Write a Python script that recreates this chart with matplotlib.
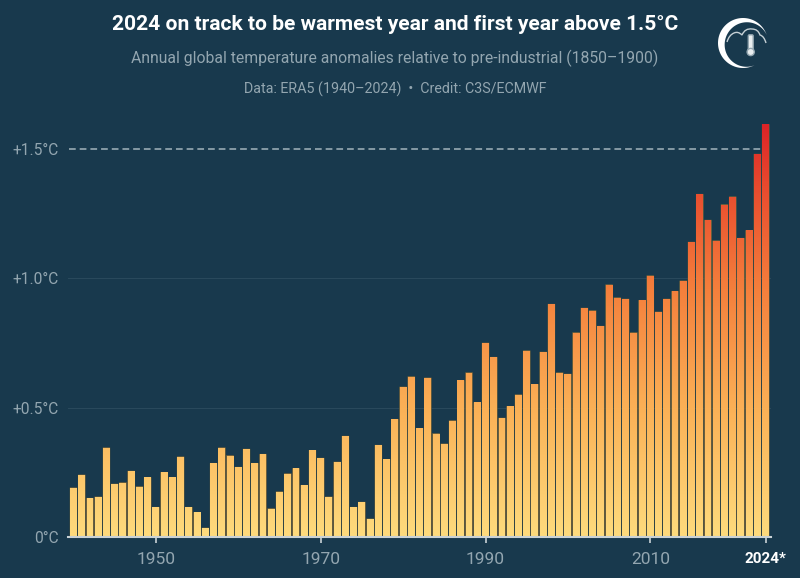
import numpy as np
import matplotlib
matplotlib.use("Agg")
import matplotlib.pyplot as plt
from matplotlib.colors import LinearSegmentedColormap
from matplotlib.patches import PathPatch, Circle, FancyBboxPatch, Polygon
from matplotlib.path import Path

years = list(range(1940, 2025))
anomalies = [
    .19, .24, .15, .155, .345, .205, .21, .255, .195, .23,
    .115, .25, .23, .31, .115, .095, .035, .285, .345, .315,
    .27, .34, .285, .32, .11, .175, .245, .265, .2, .335,
    .305, .155, .29, .39, .115, .135, .07, .355, .3, .455,
    .58, .62, .42, .615, .40, .36, .45, .605, .635, .52,
    .75, .695, .46, .505, .55, .72, .59, .715, .90, .635,
    .63, .79, .885, .875, .815, .975, .925, .92, .79, .915,
    1.01, .87, .92, .95, .99, 1.14, 1.325, 1.225, 1.145, 1.285,
    1.315, 1.155, 1.185, 1.48, 1.595,
]
y_ticks = [0, 0.5, 1.0, 1.5]
y_labels = ["0°C", "+0.5°C", "+1.0°C", "+1.5°C"]
x_ticks = [1950, 1970, 1990, 2010, 2024]
x_labels = ["1950", "1970", "1990", "2010", "2024*"]

BG = "#18394d"
GREY = "#93a6b0"
plt.rcParams["font.family"] = ["Roboto", "DejaVu Sans"]

W, H = 800, 578
fig = plt.figure(figsize=(W / 100, H / 100), dpi=100, facecolor=BG)
L, R, B, T = 68, 771, 537, 115
ax = fig.add_axes([L / W, 1 - B / H, (R - L) / W, (B - T) / H], facecolor=BG)
px_per_year = 8.24
xlim = (1940 + (L - 73.5) / px_per_year, 1940 + (R - 73.5) / px_per_year)
ylim = (0, (B - T) / 258.7)

bars = ax.bar(years, anomalies, width=0.84, color="#f9a04e",
              edgecolor="#5f5a38", linewidth=0.5, zorder=2)
verts, codes = [], []
for b in bars:
    b.set_snap(False)
    x0, y0, w, h = b.get_x(), b.get_y(), b.get_width(), b.get_height()
    verts += [(x0, y0), (x0 + w, y0), (x0 + w, y0 + h), (x0, y0 + h), (x0, y0)]
    codes += [Path.MOVETO, Path.LINETO, Path.LINETO, Path.LINETO, Path.CLOSEPOLY]
clip = PathPatch(Path(verts, codes), transform=ax.transData, fc="none", ec="none")
ax.add_patch(clip)
cmap = LinearSegmentedColormap.from_list(
    "heat", [(0, "#fedb7d"), (0.30, "#fbb257"), (0.60, "#f47f3c"),
             (0.85, "#e84a2e"), (1, "#dc2327")])
grad = np.linspace(0, 1, 256).reshape(-1, 1)
im = ax.imshow(grad, cmap=cmap, origin="lower", aspect="auto", zorder=3,
               extent=[xlim[0], xlim[1], 0, 1.6], interpolation="bilinear")
im.set_clip_path(clip)
ax.set_xlim(*xlim)
ax.set_ylim(*ylim)

for v in (0.5, 1.0):
    ax.axhline(v, color="#2a4a5d", lw=0.7, zorder=1)
ax.plot([xlim[0] + 0.1, 2023.4], [1.5, 1.5], color="#a3b4bc", lw=1.1,
        dashes=(4.4, 2.6), zorder=4)

for s in ax.spines.values():
    s.set_visible(False)
ax.spines["bottom"].set_visible(True)
ax.spines["bottom"].set_color("#c9d2d6")
ax.spines["bottom"].set_linewidth(1.5)
ax.spines["bottom"].set_zorder(5)
ax.set_xticks(x_ticks, x_labels)
ax.set_yticks(y_ticks, y_labels)
ax.tick_params(axis="x", length=4, width=1.2, color="#c9d2d6", labelcolor=GREY,
               labelsize=12.5, pad=7)
ax.tick_params(axis="y", length=0, labelcolor=GREY, labelsize=11.2, pad=6.5)
lab = ax.get_xticklabels()[-1]
lab.set_color("white")
lab.set_fontweight("bold")
lab.set_fontsize(11)
lab.set_ha("center")

fig.text(395 / W, 1 - 25 / H, "2024 on track to be warmest year and first year above 1.5°C",
         color="white", fontsize=15.1, fontweight="bold", ha="center", va="center")
fig.text(395 / W, 1 - 58 / H, "Annual global temperature anomalies relative to pre-industrial (1850–1900)",
         color=GREY, fontsize=11.3, ha="center", va="center")
fig.text(395 / W, 1 - 89 / H, "Data: ERA5 (1940–2024)  •  Credit: C3S/ECMWF",
         color=GREY, fontsize=10.3, ha="center", va="center")

# logo, drawn in pixel coordinates on a transparent overlay
lg = fig.add_axes([0, 0, 1, 1], facecolor="none")
lg.set_xlim(0, W)
lg.set_ylim(H, 0)
lg.axis("off")
t = np.radians(np.linspace(18, 298, 120))
thick = 7 * np.sin((t - t[0]) / (t[-1] - t[0]) * np.pi) ** 1.3
cx, cy, r = 743, 43, 25
outer = np.c_[cx + r * np.cos(t), cy - r * np.sin(t)]
inner = np.c_[cx + (r - thick) * np.cos(t), cy - (r - thick) * np.sin(t)]
lg.add_patch(Polygon(np.r_[outer, inner[::-1]], closed=True, fc="white", ec="none"))
cloud = Path([(727, 42), (729, 35), (734, 33), (738, 31), (742, 35), (745, 28), (752, 29),
              (758, 29), (760, 35), (764, 36), (766, 43)],
             [Path.MOVETO] + [Path.CURVE3] * 10)
lg.add_patch(PathPatch(cloud, fc="none", ec="#c5d0d5", lw=1.0))
lg.add_patch(FancyBboxPatch((749.5, 36), 2.5, 14, boxstyle="round,pad=1.2",
                            fc="#e8edef", ec="#93a6b0", lw=1.0))
lg.add_patch(Circle((750.7, 52), 3.6, fc="#e8edef", ec="#93a6b0", lw=1.0))

fig.savefig("out.png", dpi=100, facecolor=BG)
